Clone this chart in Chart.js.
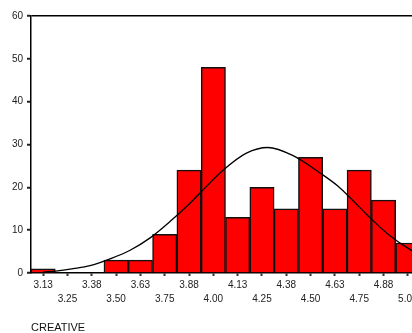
<!DOCTYPE html>
<html>
<head>
<meta charset="utf-8">
<script src="https://cdn.jsdelivr.net/npm/chart.js@4/dist/chart.umd.min.js"></script>
<style>
  html, body { margin: 0; padding: 0; background: #fff; overflow: hidden; }
  #wrap { width: 412px; height: 333px; overflow: hidden; position: relative; }
  canvas { position: absolute; left: 0; top: 0; }
</style>
</head>
<body>
<div id="wrap"><canvas id="hist" width="440" height="333" style="width:440px;height:333px"></canvas></div>
<script>
// histogram bins (bin centres) and counts
const binCenters = [3.125, 3.25, 3.375, 3.5, 3.625, 3.75, 3.875, 4.0, 4.125, 4.25, 4.375, 4.5, 4.625, 4.75, 4.875, 5.0];
const counts = [1, 0, 0, 3, 3, 9, 24, 48, 13, 20, 15, 27, 15, 24, 17, 7];
const tickLabels = ["3.13", "3.25", "3.38", "3.50", "3.63", "3.75", "3.88", "4.00", "4.13", "4.25", "4.38", "4.50", "4.63", "4.75", "4.88", "5.00"];

// normal curve
const curveX = [3.125, 3.2, 3.28, 3.366, 3.469, 3.572, 3.675, 3.777, 3.88, 3.93, 4.05, 4.17, 4.28, 4.41, 4.55, 4.64, 4.72, 4.79, 4.9, 5.0, 5.06];
const curveY = [0.2, 0.5, 1.0, 1.7, 3.3, 5.3, 8.2, 12.0, 16.3, 18.6, 24.0, 28.0, 29.3, 27.4, 23.3, 20.3, 16.8, 13.6, 9.0, 5.8, 4.3];

const yTicks = [0, 10, 20, 30, 40, 50, 60];
const axisTitle = "CREATIVE";

const font = "Arial, 'Liberation Sans', sans-serif";

new Chart(document.getElementById("hist"), {
  type: "bar",
  data: {
    datasets: [
      {
        type: "line",
        data: curveX.map((x, i) => ({ x: x, y: curveY[i] })),
        borderColor: "#000",
        borderWidth: 1.3,
        pointRadius: 0,
        cubicInterpolationMode: "monotone",
        fill: false
      },
      {
        data: binCenters.map((x, i) => ({ x: x, y: counts[i] })),
        backgroundColor: "#ff0000",
        borderColor: "#111",
        borderWidth: 1.5,
        barPercentage: 1,
        categoryPercentage: 1
      }
    ]
  },
  options: {
    responsive: false,
    animation: false,
    layout: { padding: { top: 16, right: 20, bottom: 0, left: 0 } },
    plugins: { legend: { display: false }, tooltip: { enabled: false } },
    scales: {
      x: {
        type: "linear",
        offset: false,
        min: 3.0625,
        max: 5.0625,
        afterFit: (s) => { s.height = 60; },
        afterBuildTicks: (s) => { s.ticks = binCenters.map(v => ({ value: v })); },
        grid: { offset: false, drawOnChartArea: false, tickLength: 3, tickColor: "#333", tickWidth: 2 },
        border: { color: "#000", width: 1.5 },
        ticks: {
          autoSkip: false,
          maxRotation: 0,
          padding: 2,
          color: "#222",
          font: { family: font, size: 10, lineHeight: 1.4 },
          callback: (v, i) => i % 2 === 0 ? [tickLabels[i]] : ["", tickLabels[i]]
        },
        title: {
          display: true,
          text: axisTitle,
          align: "start",
          color: "#111",
          font: { family: font, size: 11 },
          padding: { top: 0, bottom: -2 }
        }
      },
      y: {
        min: 0,
        max: 60,
        afterFit: (s) => { s.width = 31; },
        afterBuildTicks: (s) => { s.ticks = yTicks.map(v => ({ value: v })); },
        grid: {
          drawOnChartArea: true,
          color: (c) => c.tick && c.tick.value === 60 ? "#000" : "rgba(0,0,0,0)",
          lineWidth: 1.5,
          tickLength: 4,
          tickColor: "#222",
          tickWidth: 2
        },
        border: { color: "#000", width: 1.5 },
        ticks: {
          padding: 4,
          color: "#222",
          font: { family: font, size: 10 }
        }
      }
    }
  }
});
</script>
</body>
</html>
